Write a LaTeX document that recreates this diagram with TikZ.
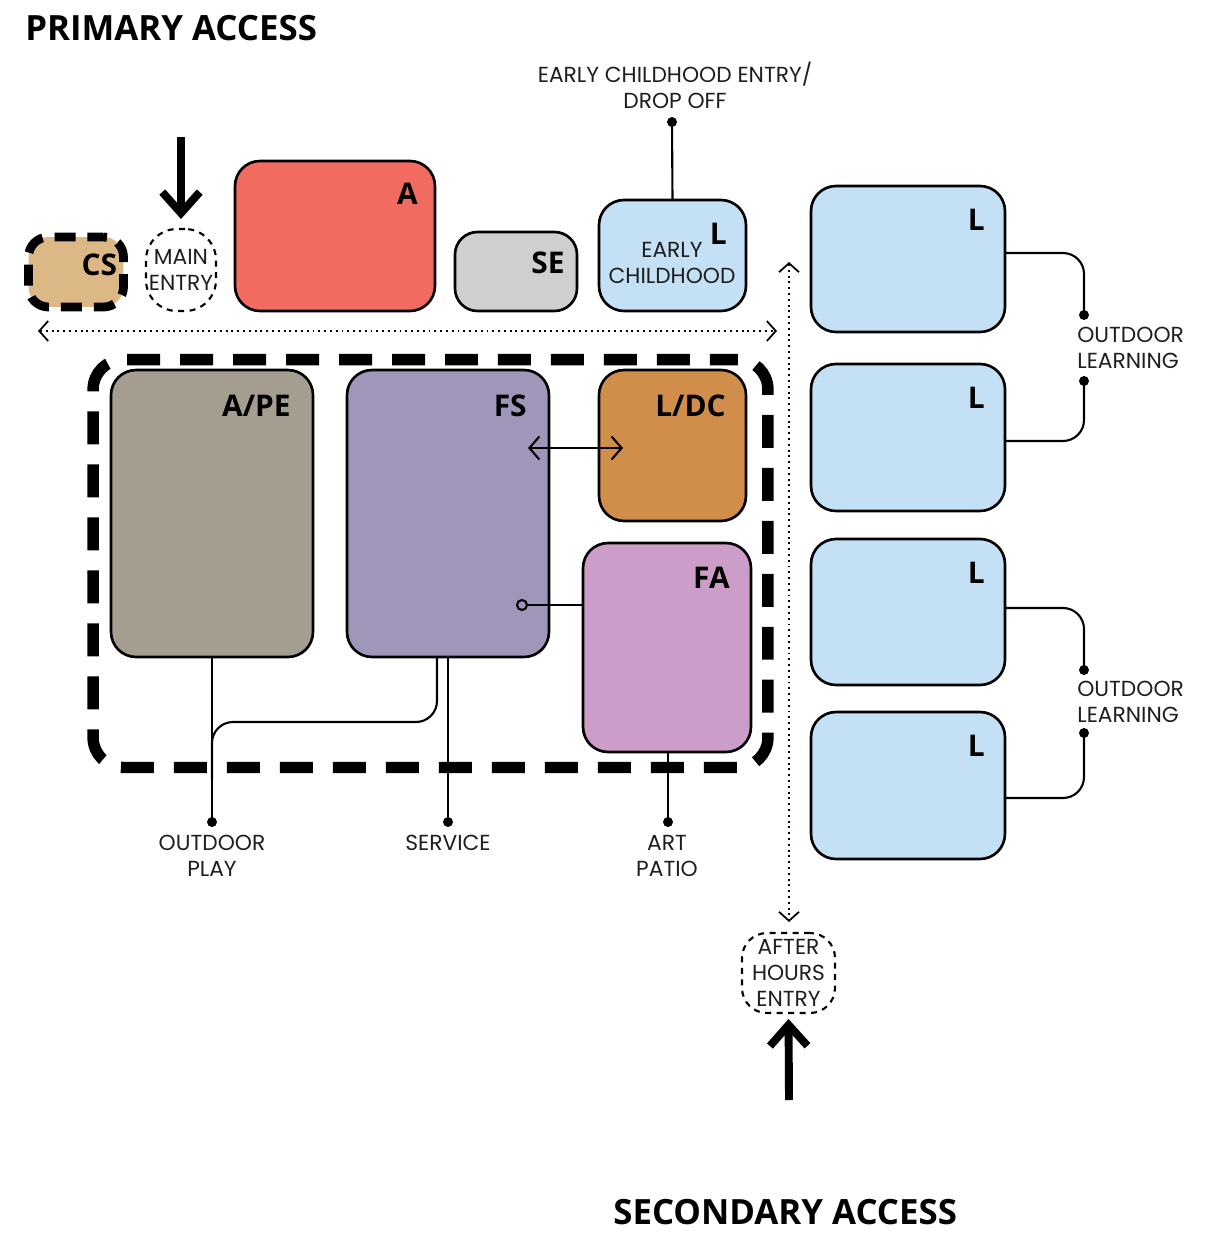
\documentclass[tikz,border=0pt]{standalone}
\usepackage{fontspec}
\setmainfont{Poppins}
\newfontfamily\headfont{Open Sans}
\usetikzlibrary{arrows.meta}

\definecolor{ink}{HTML}{1E1E1E}
\definecolor{cstan}{HTML}{DDB887}
\definecolor{adminred}{HTML}{F26B61}
\definecolor{segray}{HTML}{D0CFCD}
\definecolor{learnblue}{HTML}{C4E0F5}
\definecolor{apetaupe}{HTML}{A59E90}
\definecolor{fspurple}{HTML}{A096B9}
\definecolor{ldcorange}{HTML}{D18D4A}
\definecolor{fapink}{HTML}{CC9DC8}

\begin{document}
\begin{tikzpicture}[x=0.02cm,y=-0.02cm,
  room/.style={draw=black, line width=1.5pt, rounded corners=0.5cm,
    inner sep=0pt, outer sep=0pt, anchor=center},
  tag/.style={font=\headfont\bfseries\fontsize{17}{20}\selectfont,
    inner sep=0pt, anchor=base east},
  title/.style={font=\headfont\bfseries\fontsize{19.8}{24}\selectfont,
    inner sep=0pt, anchor=base west},
  note/.style={font=\fontsize{12.4}{14.8}\selectfont, text=ink,
    align=center, inner sep=0pt},
  entrybox/.style={draw=black, line width=1.2pt, dash pattern=on 0.12cm off 0.11cm,
    inner sep=0pt, outer sep=0pt},
  wire/.style={line width=1.2pt},
  dotline/.style={line width=1.1pt, dash pattern=on 1.1pt off 2.2pt,
    {Straight Barb[length=0.18cm,width=0.4cm,line width=1pt]}-{Straight Barb[length=0.18cm,width=0.4cm,line width=1pt]}},
  bigarrow/.style={line width=4.5pt,
    -{Straight Barb[length=0.42cm,width=0.75cm,line width=4.5pt]}},
  dot/.style={fill=black},
]
\useasboundingbox (0,0) rectangle (1209,1237);

% headings
\node[title] (primary) at (25,41) {PRIMARY ACCESS};
\node[title] (secondary) at (613,1224) {SECONDARY ACCESS};

% top row of rooms
\node[draw=black, fill=cstan, line width=5pt, dash pattern=on 0.42cm off 0.24cm,
  dash phase=0.1cm, rounded corners=0.4cm, minimum width=1.9cm, minimum height=1.4cm,
  inner sep=0pt, outer sep=0pt] (cs) at (76,272) {};
\node[tag] (cstag) at ([xshift=-0.12cm,yshift=-0.76cm]cs.north east) {CS};

\node[entrybox, rounded corners=0.62cm, minimum width=1.4cm, minimum height=1.64cm,
  note] (main) at (181,270) {MAIN\\ENTRY};

\node[room, fill=adminred, minimum width=4.0cm, minimum height=3.0cm] (A) at (335,236) {};
\node[tag] (Atag) at ([xshift=-0.34cm,yshift=-0.86cm]A.north east) {A};

\node[room, fill=segray, minimum width=2.44cm, minimum height=1.58cm, rounded corners=0.45cm] (se) at (516,271.5) {};
\node[tag] (setag) at ([xshift=-0.24cm,yshift=-0.82cm]se.north east) {SE};

\node[room, fill=learnblue, minimum width=2.94cm, minimum height=2.22cm] (ecl) at (672.5,255.5) {};
\node[tag] (ecltag) at ([xshift=-0.38cm,yshift=-0.88cm]ecl.north east) {L};
\node[note] (ecltext) at (672,263) {EARLY\\CHILDHOOD};

% learning wing
\node[room, fill=learnblue, minimum width=3.88cm, minimum height=2.92cm] (l1) at (908,259) {};
\node[room, fill=learnblue, minimum width=3.88cm, minimum height=2.94cm] (l2) at (908,437.5) {};
\node[room, fill=learnblue, minimum width=3.88cm, minimum height=2.92cm] (l3) at (908,612) {};
\node[room, fill=learnblue, minimum width=3.88cm, minimum height=2.94cm] (l4) at (908,785.5) {};
\node[tag] (l1tag) at ([xshift=-0.4cm,yshift=-0.88cm]l1.north east) {L};
\node[tag] (l2tag) at ([xshift=-0.4cm,yshift=-0.88cm]l2.north east) {L};
\node[tag] (l3tag) at ([xshift=-0.4cm,yshift=-0.88cm]l3.north east) {L};
\node[tag] (l4tag) at ([xshift=-0.4cm,yshift=-0.88cm]l4.north east) {L};

% shared zone
\node[draw=black, line width=6.5pt, dash pattern=on 0.66cm off 0.4cm, dash phase=0.1cm,
  rounded corners=0.6cm, minimum width=13.5cm, minimum height=8.16cm,
  inner sep=0pt, outer sep=0pt] (zone) at (430.5,563.5) {};

\node[room, fill=apetaupe, minimum width=4.04cm, minimum height=5.74cm] (ape) at (212,513.5) {};
\node[tag] (apetag) at ([xshift=-0.44cm,yshift=-0.92cm]ape.north east) {A/PE};
\node[room, fill=fspurple, minimum width=4.04cm, minimum height=5.74cm] (fs) at (448,513.5) {};
\node[tag] (fstag) at ([xshift=-0.44cm,yshift=-0.92cm]fs.north east) {FS};
\node[room, fill=ldcorange, minimum width=2.94cm, minimum height=3.02cm] (ldc) at (672.5,445.5) {};
\node[tag] (ldctag) at ([xshift=-0.4cm,yshift=-0.92cm]ldc.north east) {L/DC};
\node[room, fill=fapink, minimum width=3.36cm, minimum height=4.18cm] (fa) at (667,647.5) {};
\node[tag] (fatag) at ([xshift=-0.42cm,yshift=-0.9cm]fa.north east) {FA};

% after hours entry
\node[entrybox, rounded corners=0.5cm, minimum width=1.86cm, minimum height=1.6cm,
  note] (after) at (788.5,973) {AFTER\\HOURS\\ENTRY};

% access arrows
\coordinate (maintail) at (181,137);
\draw[bigarrow, shorten >=0.2cm] (maintail) -- (main.north);
\coordinate (aftertail) at (789,1100);
\draw[bigarrow, shorten >=0.12cm] (aftertail) -- (after.south);

% circulation
\coordinate (hwest) at (38,331);
\coordinate (heast) at (777,331);
\draw[dotline] (hwest) -- (heast);
\coordinate (vnorth) at (789,262);
\coordinate (vsouth) at (789,922);
\draw[dotline] (vnorth) -- (vsouth);

% early childhood drop off
\coordinate (ecdot) at (672,122);
\draw[wire] (ecl.north) -- (ecdot);
\fill[dot] (ecdot) circle (0.1cm);
\node[note] (ectext) at (675,85) {EARLY CHILDHOOD ENTRY/\\DROP OFF};

% links inside the zone
\coordinate (fsarrow) at (528,448);
\coordinate (ldcarrow) at (623,448);
\draw[wire, {Straight Barb[length=0.2cm,width=0.46cm,line width=1.2pt]}-{Straight Barb[length=0.2cm,width=0.46cm,line width=1.2pt]}] (fsarrow) -- (ldcarrow);
\coordinate (ring) at (522,605);
\draw[wire] (fa.west |- ring) -- (ring);
\draw[wire, fill=fspurple] (ring) circle (0.1cm);

% outdoor connections below the zone
\coordinate (playdot) at (212,822);
\coordinate (servdot) at (448,822);
\coordinate (artdot) at (668,822);
\coordinate (bend) at (212,722);
\coordinate (merge) at (212,780);
\draw[wire] (ape.south) -- (playdot);
\draw[wire] (fs.south) -- (servdot);
\draw[wire] ([xshift=0.02cm]fa.south) -- (artdot);
\draw[wire, rounded corners=0.42cm] ([xshift=-0.22cm]fs.south) |- (bend) -- (merge);
\fill[dot] (playdot) circle (0.1cm);
\fill[dot] (servdot) circle (0.1cm);
\fill[dot] (artdot) circle (0.1cm);
\node[note] (playtext) at (212,856) {OUTDOOR\\PLAY};
\node[note] (servtext) at (448,843) {SERVICE};
\node[note] (arttext) at (667,856) {ART\\PATIO};

% outdoor learning
\coordinate (od1) at (1084,315);
\coordinate (od2) at (1084,381);
\coordinate (od3) at (1084,670);
\coordinate (od4) at (1084,733);
\draw[wire, rounded corners=0.42cm] ([yshift=0.12cm]l1.east) -| (od1);
\draw[wire, rounded corners=0.42cm] ([yshift=-0.07cm]l2.east) -| (od2);
\draw[wire, rounded corners=0.42cm] ([yshift=0.08cm]l3.east) -| (od3);
\draw[wire, rounded corners=0.42cm] ([yshift=-0.25cm]l4.east) -| (od4);
\fill[dot] (od1) circle (0.1cm);
\fill[dot] (od2) circle (0.1cm);
\fill[dot] (od3) circle (0.1cm);
\fill[dot] (od4) circle (0.1cm);
\node[note, align=left, anchor=west] (ol1) at (1077,348) {OUTDOOR\\LEARNING};
\node[note, align=left, anchor=west] (ol2) at (1077,702) {OUTDOOR\\LEARNING};
\end{tikzpicture}
\end{document}
